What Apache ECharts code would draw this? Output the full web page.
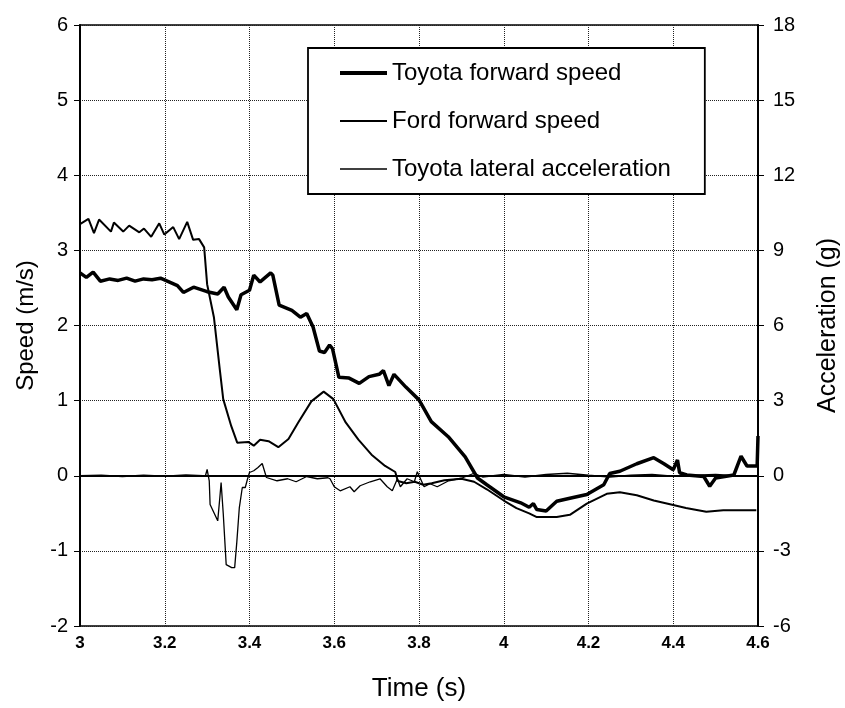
<!DOCTYPE html>
<html>
<head>
<meta charset="utf-8">
<script src="https://cdn.jsdelivr.net/npm/echarts@6/dist/echarts.min.js"></script>
<style>html,body{margin:0;padding:0;background:#fff}#c{width:845px;height:708px}</style>
</head>
<body>
<div id="c"></div>
<script>
// Toyota forward speed (m/s)
const toyotaTime = [3.0,3.015,3.031,3.048,3.07,3.09,3.11,3.13,3.15,3.17,3.19,3.21,3.23,3.244,3.268,3.30,3.325,3.34,3.35,3.37,3.38,3.40,3.41,3.425,3.45,3.455,3.47,3.50,3.52,3.535,3.55,3.565,3.577,3.589,3.596,3.611,3.635,3.659,3.682,3.706,3.716,3.729,3.741,3.769,3.80,3.829,3.869,3.909,3.938,3.96,3.98,4.0,4.02,4.04,4.06,4.07,4.078,4.10,4.125,4.156,4.196,4.236,4.25,4.274,4.314,4.354,4.378,4.40,4.41,4.415,4.432,4.472,4.486,4.50,4.543,4.56,4.574,4.598,4.60];
const toyotaSpeed = [2.70,2.64,2.71,2.59,2.62,2.60,2.63,2.59,2.62,2.61,2.63,2.58,2.53,2.44,2.51,2.45,2.42,2.51,2.38,2.21,2.41,2.47,2.67,2.58,2.70,2.67,2.27,2.20,2.11,2.16,1.98,1.66,1.64,1.74,1.69,1.31,1.30,1.23,1.32,1.35,1.40,1.20,1.35,1.18,1.01,0.72,0.52,0.25,-0.03,-0.12,-0.20,-0.28,-0.32,-0.36,-0.42,-0.37,-0.45,-0.47,-0.34,-0.30,-0.25,-0.12,0.03,0.06,0.16,0.24,0.16,0.08,0.21,0.04,0.01,-0.01,-0.14,-0.03,0.01,0.26,0.13,0.13,0.53];

// Ford forward speed (m/s)
const fordTime = [3.0,3.02,3.033,3.045,3.073,3.08,3.102,3.116,3.14,3.151,3.168,3.187,3.199,3.22,3.234,3.253,3.267,3.281,3.293,3.30,3.316,3.33,3.338,3.357,3.371,3.397,3.41,3.425,3.445,3.468,3.492,3.515,3.546,3.575,3.598,3.627,3.657,3.688,3.72,3.744,3.75,3.77,3.79,3.81,3.83,3.86,3.90,3.93,3.96,4.0,4.03,4.06,4.078,4.125,4.156,4.196,4.243,4.274,4.314,4.354,4.40,4.43,4.478,4.518,4.596];
const fordSpeed = [3.35,3.42,3.23,3.41,3.25,3.37,3.25,3.33,3.24,3.29,3.18,3.36,3.21,3.31,3.15,3.38,3.14,3.15,3.04,2.55,2.11,1.41,1.02,0.66,0.44,0.45,0.40,0.48,0.46,0.38,0.49,0.71,0.99,1.12,1.02,0.71,0.48,0.28,0.13,0.05,-0.07,-0.10,-0.08,-0.12,-0.10,-0.06,-0.04,-0.08,-0.18,-0.33,-0.43,-0.50,-0.55,-0.55,-0.52,-0.37,-0.24,-0.22,-0.26,-0.33,-0.39,-0.43,-0.48,-0.46,-0.46];

// Toyota lateral acceleration (g)
const accTime = [3.0,3.05,3.1,3.15,3.2,3.25,3.29,3.296,3.30,3.305,3.307,3.325,3.33,3.333,3.338,3.345,3.358,3.365,3.37,3.376,3.383,3.39,3.395,3.40,3.41,3.42,3.43,3.44,3.465,3.49,3.51,3.535,3.56,3.585,3.59,3.60,3.614,3.637,3.647,3.661,3.685,3.708,3.725,3.737,3.749,3.756,3.772,3.789,3.796,3.812,3.826,3.843,3.87,3.90,3.93,3.95,4.0,4.05,4.1,4.15,4.2,4.25,4.3,4.35,4.4,4.45,4.5,4.55,4.6];
const accG = [0,0.02,-0.03,0.02,-0.02,0.03,0,0,0.25,-0.2,-1.15,-1.8,-0.87,-0.27,-1.5,-3.55,-3.67,-3.67,-2.66,-1.27,-0.47,-0.47,-0.15,0.13,0.2,0.33,0.49,-0.07,-0.2,-0.12,-0.24,-0.03,-0.12,-0.08,-0.12,-0.44,-0.6,-0.44,-0.64,-0.4,-0.24,-0.12,-0.44,-0.6,-0.12,-0.44,-0.12,-0.24,0.16,-0.44,-0.32,-0.44,-0.2,-0.1,0.1,-0.05,0.05,-0.05,0.05,0.1,0.02,-0.05,0.02,0.05,-0.02,0.02,0.05,0,0];

const seriesNames = ['Toyota forward speed','Ford forward speed','Toyota lateral acceleration'];

function pairs(xs, ys){ return xs.map((x,i)=>[x, ys[i]]); }

const chart = echarts.init(document.getElementById('c'), null, {renderer:'canvas'});
const font = 'Liberation Sans, Arial, sans-serif';
const gridLine = {show:true, lineStyle:{type:'dotted', color:'#222', width:1}};
chart.setOption({
  animation:false,
  backgroundColor:'#fff',
  grid:{left:80, right:87, top:25, bottom:82, outerBoundsMode:'none', containLabel:false, show:true, borderColor:'#000', borderWidth:1.5, backgroundColor:'transparent'},
  legend:{
    orient:'vertical', left:308, top:48,
    data:[
      {name:seriesNames[0], icon:'path://M0,0H47V4H0Z'},
      {name:seriesNames[1], icon:'path://M0,0H47V2.2H0Z'},
      {name:seriesNames[2], icon:'path://M0,0H47V1.4H0Z'}
    ],
    symbolKeepAspect:true,
    itemWidth:47, itemHeight:14, itemGap:24,
    padding:[13,34,13,32],
    backgroundColor:'#fff', borderColor:'#000', borderWidth:1.8,
    textStyle:{fontFamily:font, fontSize:24, color:'#000'}
  },
  xAxis:{
    type:'value', min:3, max:4.6, interval:0.2,
    name:'Time (s)', nameLocation:'middle', nameGap:50,
    nameTextStyle:{fontFamily:font, fontSize:26, color:'#000'},
    axisLine:{show:true, lineStyle:{color:'#000', width:2}},
    axisTick:{show:false},
    axisLabel:{fontFamily:font, fontSize:17, fontWeight:'bold', color:'#000', margin:9,
      formatter:v=>String(+v.toFixed(1))},
    splitLine:gridLine
  },
  yAxis:[{
    type:'value', min:-2, max:6, interval:1,
    name:'Speed (m/s)', nameLocation:'middle', nameGap:42,
    nameTextStyle:{fontFamily:font, fontSize:24, color:'#000'},
    axisLine:{show:true, lineStyle:{color:'#000', width:2}},
    axisTick:{show:true, length:6, lineStyle:{color:'#000'}},
    axisLabel:{fontFamily:font, fontSize:20, color:'#000', margin:12},
    splitLine:gridLine
  },{
    type:'value', min:-6, max:18, interval:3, position:'right',
    name:'Acceleration (g)', nameLocation:'middle', nameGap:58, nameRotate:90,
    nameTextStyle:{fontFamily:font, fontSize:25, color:'#000'},
    axisLine:{show:true, lineStyle:{color:'#000', width:2}},
    axisTick:{show:true, length:6, lineStyle:{color:'#000'}},
    axisLabel:{fontFamily:font, fontSize:20, color:'#000', margin:15},
    splitLine:{show:false}
  }],
  series:[
    {name:seriesNames[0], type:'line', yAxisIndex:0, data:pairs(toyotaTime,toyotaSpeed), showSymbol:false, symbol:'none', lineStyle:{color:'#000', width:3.5}, itemStyle:{color:'#000'}, z:4},
    {name:seriesNames[1], type:'line', yAxisIndex:0, data:pairs(fordTime,fordSpeed), showSymbol:false, symbol:'none', lineStyle:{color:'#000', width:2}, itemStyle:{color:'#000'}, z:3},
    {name:seriesNames[2], type:'line', yAxisIndex:1, data:pairs(accTime,accG), showSymbol:false, symbol:'none', lineStyle:{color:'#000', width:1.3}, itemStyle:{color:'#000'}, z:2}
  ]
});
</script>
</body>
</html>
